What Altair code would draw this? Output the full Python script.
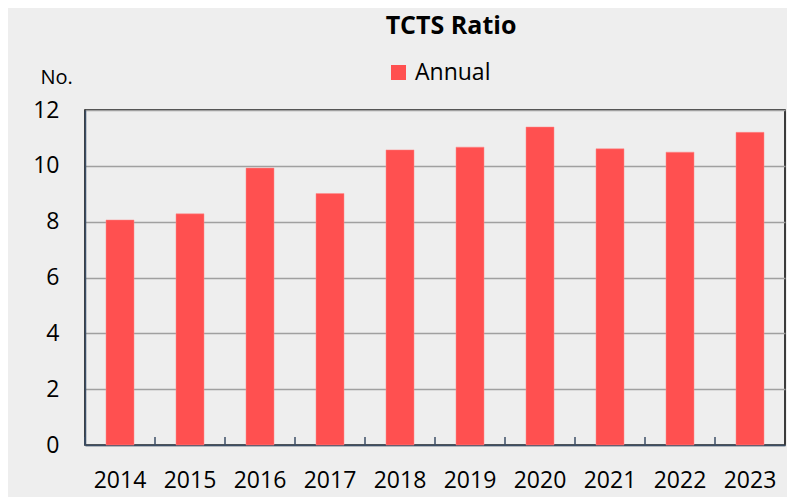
import altair as alt
import pandas as pd

years = ["2014", "2015", "2016", "2017", "2018", "2019", "2020", "2021", "2022", "2023"]
values = [8.06, 8.28, 9.92, 9.01, 10.57, 10.67, 11.39, 10.61, 10.49, 11.20]
series = ["Annual"] * len(years)

df = pd.DataFrame({"year": years, "value": values, "series": series})

FONT = "Open Sans"
AXIS_COL = "#3B4E66"

xscale = alt.Scale(paddingInner=0.6, paddingOuter=0.3)

bars = alt.Chart(df).mark_bar(stroke="#FF8A8A", strokeWidth=0.5).encode(
    x=alt.X("year:N", scale=xscale, sort=None,
            axis=alt.Axis(title=None, labelAngle=0, ticks=False, domainColor=AXIS_COL,
                          domainWidth=1.5, labelFontSize=23, labelFont=FONT,
                          labelColor="#000000", labelPadding=24)),
    y=alt.Y("value:Q", scale=alt.Scale(domain=[0, 12]),
            axis=alt.Axis(values=[0, 2, 4, 6, 8, 10, 12], ticks=False, domainColor=AXIS_COL,
                          domainWidth=1.5, gridColor="#A0A0A0", gridWidth=1.5,
                          labelFontSize=23, labelFont=FONT, labelColor="#000000",
                          labelPadding=26, title="No.", titleAngle=0, titleAlign="left",
                          titleBaseline="middle", titleX=-45, titleY=-33, titleFontSize=20,
                          titleFontWeight="normal", titleFont=FONT, titleColor="#000000")),
    color=alt.Color("series:N", scale=alt.Scale(domain=["Annual"], range=["#FF5050"]),
                    legend=alt.Legend(title=None, orient="none", legendX=302, legendY=-49,
                                      symbolType="square", symbolSize=225, symbolStrokeWidth=0,
                                      labelFontSize=23, labelFont=FONT, labelColor="#000000",
                                      labelOffset=5, padding=0)),
)

ticks = alt.Chart(df).mark_rule(color=AXIS_COL, strokeWidth=1.5, xOffset=-35).encode(
    x=alt.X("year:N", scale=xscale, sort=None),
    y=alt.value(327),
    y2=alt.value(335),
)

chart = alt.layer(bars, ticks).properties(
    width=700,
    height=335,
    title=alt.TitleParams("TCTS Ratio", font=FONT, fontSize=25, fontWeight="bold",
                          color="#000000", anchor="middle", dx=16, offset=22),
    autosize=alt.AutoSizeParams(type="none"),
    padding={"left": 77, "top": 102, "right": 2, "bottom": 52},
).configure(background="#EEEEEE").configure_view(stroke="#000000", strokeWidth=1.5)

chart.save("out.html", embed_options={"renderer": "svg", "actions": False})
